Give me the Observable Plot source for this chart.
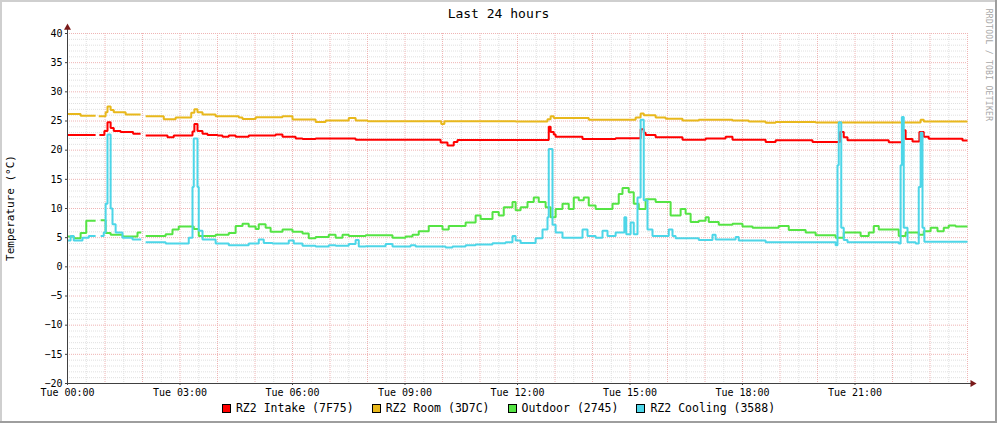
<!DOCTYPE html>
<html><head><meta charset="utf-8">
<script src="https://cdn.jsdelivr.net/npm/d3@7"></script>
<script src="https://cdn.jsdelivr.net/npm/@observablehq/plot@0.6"></script>
<style>
html,body{margin:0;padding:0;background:#fff;}
#wrap{position:relative;width:997px;height:423px;background:#fff;overflow:hidden;font-family:"DejaVu Sans Mono",monospace;color:#000;}
#chart{position:absolute;left:0;top:0;}
.abs{position:absolute;white-space:nowrap;}
#title{left:0;width:997px;top:6px;text-align:center;font-size:13px;line-height:16px;}
#ylab{left:10px;top:208px;font-size:11px;transform:translate(-50%,-50%) rotate(-90deg);}
#wm{left:988px;top:65px;font-size:8px;color:#a8a8a8;transform:translate(-50%,-50%) rotate(90deg);letter-spacing:0.3px;}
#legend{left:0;width:997px;top:402px;display:flex;justify-content:center;gap:18px;font-size:11.5px;line-height:13px;}
#legend .it{display:flex;align-items:center;}
#legend .sw{width:7px;height:7px;border:1px solid #000;margin-right:5px;}
.bt{left:0;top:0;width:997px;height:2px;background:#cfcfcf;}
.bl{left:0;top:0;width:2px;height:423px;background:#cfcfcf;}
.bb{left:0;top:421px;width:997px;height:2px;background:#9e9e9e;}
.br{left:995px;top:0;width:2px;height:423px;background:#9e9e9e;}
</style></head><body>
<div id="wrap">
  <div id="chart"></div>
  <div id="title" class="abs"></div>
  <div id="ylab" class="abs"></div>
  <div id="wm" class="abs"></div>
  <div id="legend" class="abs"></div>
  <div class="abs bt"></div><div class="abs bl"></div><div class="abs bb"></div><div class="abs br"></div>
</div>
<script>
const titleText = "Last 24 hours";
const yLabelText = "Temperature (°C)";
const watermarkText = "RRDTOOL / TOBI OETIKER";

const xTickMinutes = [0, 180, 360, 540, 720, 900, 1080, 1260];
const xTickLabels = ["Tue 00:00", "Tue 03:00", "Tue 06:00", "Tue 09:00", "Tue 12:00", "Tue 15:00", "Tue 18:00", "Tue 21:00"];
const yTickValues = [-20, -15, -10, -5, 0, 5, 10, 15, 20, 25, 30, 35, 40];

const seriesNames = ["RZ2 Intake (7F75)", "RZ2 Room (3D7C)", "Outdoor (2745)", "RZ2 Cooling (3588)"];
const seriesColors = ["#ff0000", "#e8b81c", "#55e444", "#4dd6e8"];

// minutes since 00:00 where each step starts; value holds until the next entry (null = no data)
const intakeMin = [0,45,51,59,64,69,74,85,105,117,125,160,170,200,203,208,216,224,240,248,258,269,290,333,344,365,376,397,461,597,608,618,624,770,773,778,781,824,877,917,922,925,941,984,1021,1053,1064,1117,1133,1192,1236,1242,1248,1314,1337,1341,1352,1363,1370,1378,1432];
const intakeVal = [22.6,null,22.6,23.3,24.8,23.8,23.3,23.1,22.8,null,22.5,22.2,22.5,23.2,24.5,23.3,22.8,22.6,22.5,22.3,22.5,22.3,22.5,22.7,22.3,22.0,21.9,22.0,21.8,21.3,20.8,21.4,21.75,24.0,23.1,22.7,22.3,21.9,22.05,23.6,23.0,22.6,22.2,21.8,22.0,22.3,21.8,21.4,21.7,21.4,23.1,22.2,21.7,21.35,23.4,21.9,21.5,23.1,22.3,21.95,21.65];

const roomMin = [0,21,45,50,61,64,69,74,93,117,125,154,173,198,203,208,216,237,274,280,301,344,360,397,413,450,461,480,598,603,717,768,773,778,834,909,917,922,941,957,984,1010,1064,1090,1117,1133,1197,1365,1370];
const roomVal = [26.2,25.9,null,25.8,26.5,27.5,26.9,26.5,26.1,null,25.8,25.3,25.6,26.4,27.0,26.5,26.1,25.8,25.6,25.35,25.65,25.8,25.25,24.85,25.1,25.5,25.1,24.95,24.5,24.95,24.9,25.3,25.8,25.5,25.2,25.6,26.3,26.0,25.6,25.4,25.1,25.2,25.1,24.9,24.7,24.85,24.75,25.2,24.9];

const outdoorMin = [0,10,21,30,45,53,61,69,88,112,118,125,157,168,178,202,210,237,258,269,280,290,301,306,317,325,344,360,376,386,397,418,429,440,450,477,520,541,552,562,578,600,610,637,653,661,680,690,698,712,717,725,736,746,754,765,773,781,792,802,810,818,826,834,845,872,882,888,898,906,914,925,941,965,981,989,997,1010,1021,1026,1042,1064,1080,1096,1138,1154,1181,1197,1229,1242,1269,1282,1290,1298,1330,1341,1362,1370,1381,1392,1402,1410,1421];
const outdoorVal = [5.2,4.9,5.8,7.9,null,8.0,5.8,5.5,5.2,5.9,null,5.3,5.6,6.4,6.9,6.5,5.3,5.5,5.8,7.0,7.4,6.9,6.5,7.3,6.7,6.0,6.4,6.0,5.7,4.9,5.1,5.5,5.0,5.5,5.3,5.4,5.0,5.2,5.5,6.1,7.0,6.4,7.0,7.6,8.8,8.2,9.4,8.8,10.2,11.1,9.7,10.2,11.1,11.9,11.1,10.2,8.5,9.9,10.8,9.9,11.9,11.4,11.9,10.5,9.9,10.8,12.5,13.5,12.8,10.8,9.9,11.6,11.1,8.8,9.9,9.1,7.7,7.9,8.5,7.7,7.2,7.4,6.9,6.7,7.0,6.3,5.9,5.4,5.0,5.9,5.3,5.9,7.0,6.4,5.3,5.9,5.5,6.1,6.7,6.1,6.7,7.1,6.9];

const coolingMin = [0,5,10,24,34,45,53,58,61,64,69,72,77,88,104,118,125,157,194,200,202,208,210,216,237,258,290,306,314,328,354,362,376,397,418,429,450,461,466,477,509,520,549,557,605,616,637,653,680,701,712,717,725,749,760,768,770,776,781,792,824,832,845,856,864,877,891,894,901,906,912,917,922,928,936,962,968,973,1010,1032,1037,1069,1074,1117,1229,1232,1234,1238,1242,1248,1330,1333,1335,1338,1344,1357,1362,1365,1368,1371];
const coolingVal = [4.5,5.3,4.5,5.0,5.3,null,5.3,5.9,10.8,22.7,10.0,7.3,5.9,5.0,4.7,null,4.2,4.0,5.0,13.7,22.0,13.7,6.2,4.7,4.0,3.7,4.0,4.7,4.1,4.0,4.5,4.0,3.6,3.5,3.7,3.6,3.9,4.6,3.5,3.55,3.9,3.5,3.7,3.5,3.3,3.5,3.7,3.85,4.05,4.2,5.3,4.5,4.1,4.9,6.4,8.5,20.2,7.2,5.9,5.0,6.4,5.3,5.0,6.2,5.3,5.9,8.5,5.6,7.6,5.6,11.9,25.2,11.4,6.4,5.3,6.4,5.3,4.9,4.6,5.5,4.7,5.1,4.5,4.2,3.7,17.4,24.8,6.7,4.6,4.2,4.0,17.4,25.7,6.7,4.2,4.0,13.7,23.0,6.7,4.3];

const END = 1440;
function stepRows(mins, vals, name) {
  const out = [];
  for (let i = 0; i < mins.length; i++) {
    const m0 = mins[i], m1 = i + 1 < mins.length ? mins[i + 1] : END, v = vals[i];
    if (v == null) { out.push({series: name, m: m0, v: NaN}); continue; }
    out.push({series: name, m: m0, v}, {series: name, m: m1, v});
  }
  return out;
}
const series = [
  stepRows(intakeMin, intakeVal, seriesNames[0]),
  stepRows(roomMin, roomVal, seriesNames[1]),
  stepRows(outdoorMin, outdoorVal, seriesNames[2]),
  stepRows(coolingMin, coolingVal, seriesNames[3])
];

const minorY = d3.range(-20, 41).filter(v => v % 5 !== 0);
const majorY = yTickValues.filter(v => v !== -20);
const minorX = d3.range(30, END, 60);
const majorX = d3.range(60, END + 1, 60);
const gridMinor = "#e0e0e0", gridMajor = "#efb4b4", axisCol = "#404040", arrowCol = "#7a1a1a";

const plot = Plot.plot({
  width: 997, height: 423,
  marginLeft: 67, marginRight: 30, marginTop: 33, marginBottom: 40,
  style: {fontFamily: "DejaVu Sans Mono", fontSize: "10px", color: "#000", background: "transparent", overflow: "visible"},
  x: {domain: [0, END], type: "linear"},
  y: {domain: [-20, 40]},
  marks: [
    Plot.ruleY(minorY, {stroke: gridMinor, strokeDasharray: "1,1", strokeWidth: 1}),
    Plot.ruleX(minorX, {stroke: gridMinor, strokeDasharray: "1,1", strokeWidth: 1}),
    Plot.ruleY(majorY, {stroke: gridMajor, strokeDasharray: "1,1", strokeWidth: 1}),
    Plot.ruleX(majorX, {stroke: gridMajor, strokeDasharray: "1,1", strokeWidth: 1}),
    ...series.map((rows, i) => Plot.line(rows, {x: "m", y: "v", stroke: seriesColors[i], strokeWidth: 2, curve: "linear", strokeLinejoin: "miter", strokeLinecap: "butt"})),
    Plot.ruleX([0], {y1: -20, y2: 41, stroke: axisCol, strokeWidth: 1}),
    Plot.ruleY([-20], {x1: 0, x2: 1448, stroke: axisCol, strokeWidth: 1}),
    Plot.dot([{m: 0, v: 41}], {x: "m", y: "v", symbol: "triangle", r: 2.6, fill: arrowCol, stroke: "none"}),
    Plot.dot([{m: 1448, v: -20}], {x: "m", y: "v", symbol: "triangle", r: 2.6, fill: arrowCol, stroke: "none", rotate: 90}),
    Plot.axisY(yTickValues, {tickSize: 2, tickPadding: 3, stroke: axisCol, label: null}),
    Plot.axisX(xTickMinutes, {tickSize: 2, tickPadding: 3, stroke: axisCol, label: null,
      tickFormat: d => xTickLabels[xTickMinutes.indexOf(d)]})
  ]
});
document.getElementById("chart").appendChild(plot);

document.getElementById("title").textContent = titleText;
document.getElementById("ylab").textContent = yLabelText;
document.getElementById("wm").textContent = watermarkText;
const leg = document.getElementById("legend");
seriesNames.forEach((n, i) => {
  const it = document.createElement("span"); it.className = "it";
  const sw = document.createElement("span"); sw.className = "sw"; sw.style.background = seriesColors[i];
  it.appendChild(sw); it.appendChild(document.createTextNode(n));
  leg.appendChild(it);
});
</script>
</body></html>
